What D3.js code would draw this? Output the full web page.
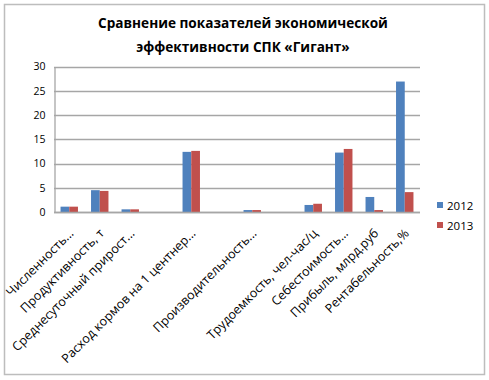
<!DOCTYPE html>
<html><head><meta charset="utf-8">
<script src="https://cdn.jsdelivr.net/npm/d3@7/dist/d3.min.js"></script>
<style>
html,body{margin:0;padding:0;background:#fff;}
svg{display:block;font-family:"Open Sans","Noto Sans",sans-serif;}
</style></head>
<body><svg id="c" width="489" height="380"></svg>
<script>
const categories = ["Численность...", "Продуктивность, т", "Среднесуточный прирост...", "", "Расход кормов на 1 центнер...", "", "Производительность...", "", "Трудоемкость, чел-час/ц", "Себестоимость...", "Прибыль, млрд.руб", "Рентабельность,%"];
const series2012 = [1.1, 4.5, 0.55, null, 12.4, null, 0.4, null, 1.45, 12.25, 3.1, 26.9];
const series2013 = [1.1, 4.35, 0.55, null, 12.6, null, 0.4, null, 1.7, 13.0, 0.4, 4.1];
const seriesNames = ["2012", "2013"];
const colors = ["#4F81BD", "#C0504D"];
const yTicks = [0, 5, 10, 15, 20, 25, 30];
const titleLines = ["Сравнение показателей экономической", "эффективности СПК «Гигант»"];

const svg = d3.select("#c");
svg.append("rect").attr("x",4.5).attr("y",4.5).attr("width",480).attr("height",370)
  .attr("fill","#fff").attr("stroke","#bdbdbd").attr("stroke-width",1.5);

const x = d3.scaleBand().domain(d3.range(categories.length)).range([54,420]).paddingInner(0).paddingOuter(0);
const y = d3.scaleLinear().domain([0,30]).range([212,66.5]);

// title
svg.append("g").selectAll("text").data(titleLines).join("text")
  .attr("x",243).attr("y",(d,i)=>28+i*24).attr("text-anchor","middle")
  .attr("font-size","13.6px").attr("font-weight","bold").attr("fill","#000")
  .attr("font-family","'Open Sans',sans-serif")
  .text(d=>d);

// gridlines
svg.append("g").selectAll("line").data(yTicks).join("line")
  .attr("x1",54).attr("x2",420).attr("y1",d=>Math.round(y(d))+0.5).attr("y2",d=>Math.round(y(d))+0.5)
  .attr("stroke","#a6a6a6").attr("stroke-width",1.3);

// y axis
const yAxis = d3.axisLeft(y).tickValues(yTicks).tickSize(0).tickPadding(9);
const gy = svg.append("g").attr("transform","translate(54.5,0)").call(yAxis);
gy.select(".domain").attr("stroke","#a6a6a6").attr("stroke-width",1.3);
gy.selectAll("text").attr("font-size","10.5px").attr("fill","#000").attr("font-family","'Open Sans',sans-serif");

// bars
const bw = x.bandwidth()/3.5;
const sData = [series2012, series2013];
sData.forEach((s,si)=>{
  svg.append("g").selectAll("rect").data(s.map((v,i)=>({v,i})).filter(d=>d.v!=null)).join("rect")
    .attr("x",d=>x(d.i)+x.bandwidth()/2 - bw + si*bw)
    .attr("width",bw)
    .attr("y",d=>y(d.v))
    .attr("height",d=>y(0)-y(d.v))
    .attr("fill",colors[si]);
});

// x axis line
svg.append("line").attr("x1",54).attr("x2",420).attr("y1",212.5).attr("y2",212.5)
  .attr("stroke","#a6a6a6").attr("stroke-width",1.3);

// x labels
svg.append("g").selectAll("text").data(categories.map((c,i)=>({c,i}))).join("text")
  .attr("transform",d=>`translate(${x(d.i)+x.bandwidth()/2+2},${231}) rotate(-45)`)
  .attr("text-anchor","end").attr("dy","0.35em")
  .attr("font-size","12.5px").attr("fill","#000").attr("font-family","'Open Sans',sans-serif")
  .text(d=>d.c);

// legend
const lg = svg.append("g").selectAll("g").data(seriesNames).join("g")
  .attr("transform",(d,i)=>`translate(437,${202+i*20})`);
lg.append("rect").attr("width",6).attr("height",6).attr("fill",(d,i)=>colors[i]);
lg.append("text").attr("x",10).attr("y",7.5).attr("font-size","11.5px").attr("fill","#000")
  .attr("font-family","'Open Sans',sans-serif").text(d=>d);
</script></body></html>
